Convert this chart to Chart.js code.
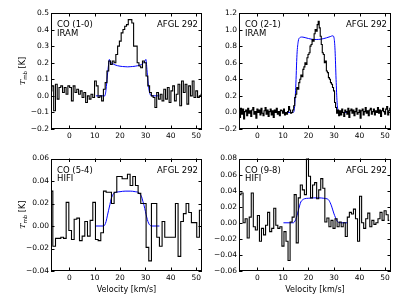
<!DOCTYPE html>
<html lang="en">
<head>
<meta charset="UTF-8">
<title>AFGL 292 - CO spectra</title>
<script src="https://cdn.jsdelivr.net/npm/chart.js@4"></script>
<style>
    body { margin: 0; background: #fff; }
    .wrap { position: relative; width: 407px; height: 305px; }
    .wrap canvas { position: absolute; }
</style>
</head>
<body>
<div class="wrap">
    <canvas id="co10" style="left:0px;top:0px" width="205" height="152"></canvas>
    <canvas id="co21" style="left:205px;top:0px" width="202" height="152"></canvas>
    <canvas id="co54" style="left:0px;top:152px" width="205" height="153"></canvas>
    <canvas id="co98" style="left:205px;top:152px" width="202" height="153"></canvas>
</div>

<script>
    // ---- data ----
    const velTicks = [0, 10, 20, 30, 40, 50];

    // CO (1-0) IRAM, channels of 0.7 km/s starting at -7.2
    const co10Start = -7.2, co10Width = 0.7;
    const co10T = [0.03, 0.06, -0.09, 0.07, -0.02, 0.05, 0.06, 0.02, 0.05, 0.01,
        0.06, 0.05, -0.03, 0.06, 0.02, 0.04, 0.01, 0.03, -0.01, 0.02,
        -0.04, 0.0, -0.02, 0.01, -0.01, 0.09, 0.06, -0.01, 0.0, -0.03,
        0.04, 0.08, 0.15, 0.21, 0.19, 0.21, 0.2, 0.25, 0.3, 0.33,
        0.38, 0.4, 0.42, 0.43, 0.46, 0.46, 0.44, 0.3, 0.3, 0.2,
        0.18, 0.17, 0.21, 0.2, 0.12, 0.06, 0.02, 0.0, -0.01, -0.07,
        0.02, -0.02, 0.01, -0.03, 0.04, -0.02, 0.05, -0.04, 0.03, 0.06,
        -0.03, 0.01, 0.07, -0.06, 0.09, 0.02, 0.07, -0.05, 0.06, 0.0,
        0.09, -0.01, 0.03, -0.01, 0.0, 0.01];
    const co10ModelV = [10.5, 14.0, 14.5, 15.0, 15.5, 15.8, 16.2, 17, 18, 19, 20, 21, 22, 23, 24, 25, 26, 27, 28, 29, 29.8, 30.2, 30.6, 31.0, 31.5, 32.0, 32.5, 35.5];
    const co10ModelT = [0, 0, 0.04, 0.12, 0.19, 0.22, 0.205, 0.195, 0.187, 0.182, 0.179, 0.177, 0.176, 0.175, 0.176, 0.177, 0.179, 0.182, 0.187, 0.195, 0.21, 0.22, 0.16, 0.09, 0.03, 0.005, 0, 0];
    const co10YTicks = [-0.2, -0.1, 0.0, 0.1, 0.2, 0.3, 0.4, 0.5];

    // CO (2-1) IRAM, channels of 0.4 km/s starting at -7.2
    const co21Start = -7.2, co21Width = 0.4;
    const co21T = [0.02, -0.06, 0.05, -0.02, 0.04, -0.08, 0.01, 0.03, -0.04, 0.05,
        -0.01, 0.02, -0.05, 0.03, 0.06, -0.02, 0.01, -0.07, 0.04, 0.0,
        0.03, -0.03, 0.05, -0.01, -0.04, 0.02, 0.06, -0.02, 0.03, -0.05,
        0.01, 0.04, -0.03, 0.02, -0.06, 0.03, 0.0, 0.05, -0.02, 0.01,
        -0.04, 0.03, 0.02, -0.01, 0.04, -0.03, 0.0, -0.02, 0.01, 0.07,
        0.03, -0.01, 0.0,
        0.03, 0.08, 0.18, 0.22, 0.3, 0.28, 0.36, 0.4, 0.45, 0.43,
        0.52, 0.55, 0.6, 0.58, 0.66, 0.7, 0.72, 0.8, 0.82, 0.88,
        0.86, 0.95, 1.0, 0.98, 1.06, 1.1, 1.02, 0.92, 0.82, 0.72,
        0.7, 0.6, 0.62, 0.5, 0.48, 0.42, 0.4, 0.36, 0.34, 0.3,
        0.26, 0.12, 0.06, -0.01, 0.03, -0.04,
        0.02, -0.03, 0.04, 0.0, -0.05, 0.03, 0.01, -0.02, 0.05, -0.06,
        0.02, 0.04, -0.01, 0.03, -0.04, 0.01, 0.05, -0.02, 0.0, 0.03,
        -0.07, 0.02, 0.04, -0.03, 0.01, 0.06, -0.01, 0.02, -0.04, 0.03,
        0.05, -0.02, 0.01, 0.04, -0.03, 0.02, 0.0, 0.06, -0.01, 0.03,
        -0.05, 0.02, 0.05, 0.01, -0.02, 0.04, 0.07, -0.03, 0.02, 0.05, -0.01];
    const co21ModelV = [10.5, 14.0, 14.5, 15.0, 15.5, 16.0, 16.5, 17.5, 19, 21, 23, 25, 27, 28.5, 29.5, 30.0, 30.4, 30.8, 31.2, 31.6, 32.0, 35.5];
    const co21ModelT = [0, 0, 0.05, 0.3, 0.7, 0.86, 0.9, 0.91, 0.9, 0.885, 0.88, 0.885, 0.9, 0.915, 0.925, 0.9, 0.75, 0.4, 0.12, 0.02, 0, 0];
    const co21YTicks = [-0.2, 0.0, 0.2, 0.4, 0.6, 0.8, 1.0, 1.2];

    // CO (5-4) HIFI, channels of 1.05 km/s starting at -7.0
    const co54Start = -7.0, co54Width = 1.05;
    const co54T = [0.031, -0.018, -0.011, -0.011, -0.010, -0.011, 0.021, -0.004, -0.012, 0.006,
        0.007, -0.013, -0.009, 0.004, -0.009, 0.005, 0.021, -0.012, -0.013, -0.006,
        0.031, 0.030, 0.030, 0.020, 0.030, 0.044, 0.044, 0.042, 0.042, 0.046,
        0.036, 0.044, 0.036, 0.029, 0.020, 0.020, -0.019, -0.031, 0.020, 0.020,
        -0.010, -0.018, 0.004, -0.010, -0.010, -0.010, -0.010, 0.020, -0.027, 0.004,
        0.011, 0.020, 0.012, 0.003, 0.003, -0.010, 0.014];
    const co54ModelV = [10.5, 13.5, 14.0, 14.5, 15.0, 15.5, 16.0, 16.5, 17.0, 17.5, 18.5, 20, 22, 24, 26, 27.5, 28.0, 28.5, 29.0, 29.5, 30.0, 30.5, 31.0, 31.5, 32.0, 32.5, 35.5];
    const co54ModelT = [0, 0, 0.001, 0.004, 0.009, 0.014, 0.019, 0.024, 0.027, 0.029, 0.030, 0.0305, 0.031, 0.031, 0.0305, 0.0295, 0.028, 0.026, 0.022, 0.018, 0.013, 0.008, 0.004, 0.0015, 0.0003, 0, 0];
    const co54YTicks = [-0.04, -0.02, 0.00, 0.02, 0.04, 0.06];

    // CO (9-8) HIFI, channels of 0.8 km/s starting at -6.8
    const co98Start = -6.8, co98Width = 0.8;
    const co98T = [0.035, 0.037, 0.000, 0.005, -0.019, 0.007, 0.037, -0.005, -0.009, 0.009,
        -0.023, -0.007, -0.015, -0.003, 0.013, -0.011, -0.007, 0.018, -0.003, -0.007,
        -0.005, -0.029, -0.011, -0.023, -0.047, 0.001, 0.007, 0.035, -0.025, 0.031,
        0.047, 0.041, 0.035, 0.080, 0.058, 0.031, 0.047, 0.050, 0.030, 0.041,
        0.055, 0.043, 0.001, 0.006, -0.005, 0.003, -0.007, 0.005, -0.005, 0.001,
        -0.005, 0.000, -0.017, 0.007, 0.013, 0.011, 0.017, 0.005, -0.023, 0.033,
        0.000, -0.007, 0.005, 0.012, -0.005, 0.003, -0.002, 0.000, 0.005, 0.013,
        0.003, 0.015, 0.010, 0.003];
    const co98ModelV = [10.2, 14.0, 14.5, 15.0, 15.5, 16.0, 16.5, 17.0, 17.5, 18.5, 20, 22, 24, 26, 27.5, 28.0, 28.5, 29.0, 29.5, 30.0, 30.5, 31.0, 31.5, 32.0, 32.5, 35.2];
    const co98ModelT = [0, 0, 0.001, 0.004, 0.009, 0.015, 0.021, 0.026, 0.028, 0.030, 0.0305, 0.031, 0.031, 0.0305, 0.0295, 0.028, 0.025, 0.021, 0.016, 0.011, 0.007, 0.003, 0.001, 0.0002, 0, 0];
    const co98YTicks = [-0.06, -0.04, -0.02, 0.00, 0.02, 0.04, 0.06, 0.08];

    const velMin = -7.2, velMax = 52.3;

    Chart.defaults.font.family = "'DejaVu Sans', sans-serif";
    Chart.defaults.color = '#000';

    // frame with inward ticks on all four sides (matplotlib look)
    const framePlugin = {
        id: 'frame',
        afterDraw(chart) {
            const { ctx, chartArea: a, scales } = chart;
            const len = 3.5;
            ctx.save();
            ctx.strokeStyle = '#000';
            ctx.lineWidth = 1;
            ctx.strokeRect(Math.round(a.left) + 0.5, Math.round(a.top) + 0.5,
                Math.round(a.right) - Math.round(a.left) - 1, Math.round(a.bottom) - Math.round(a.top) - 1);
            ctx.beginPath();
            scales.x.ticks.forEach(t => {
                const px = Math.round(scales.x.getPixelForValue(t.value)) + 0.5;
                ctx.moveTo(px, a.bottom); ctx.lineTo(px, a.bottom - len);
                ctx.moveTo(px, a.top); ctx.lineTo(px, a.top + len);
            });
            scales.y.ticks.forEach(t => {
                const py = Math.round(scales.y.getPixelForValue(t.value)) + 0.5;
                ctx.moveTo(a.left, py); ctx.lineTo(a.left + len, py);
                ctx.moveTo(a.right, py); ctx.lineTo(a.right - len, py);
            });
            ctx.stroke();
            ctx.restore();
        }
    };

    // line name, telescope, source name and the T_mb label
    const textPlugin = {
        id: 'panelText',
        afterDraw(chart, args, opts) {
            const { ctx, chartArea: a } = chart;
            ctx.save();
            ctx.fillStyle = '#000';
            ctx.font = "8.5px 'DejaVu Sans'";
            ctx.textBaseline = 'alphabetic';
            ctx.textAlign = 'left';
            ctx.fillText(opts.line, a.left + 6, a.top + 14);
            ctx.fillText(opts.telescope, a.left + 6, a.top + 22.5);
            ctx.textAlign = 'right';
            ctx.fillText(opts.source, a.right - 4, a.top + 14);
            if (opts.ylabel) {
                const cy = (a.top + a.bottom) / 2;
                ctx.translate(opts.ylabelX, cy);
                ctx.rotate(-Math.PI / 2);
                ctx.textAlign = 'left';
                const big = "8px 'DejaVu Sans'";
                const small = "5.5px 'DejaVu Sans'";
                const parts = [
                    { t: 'T', f: "italic 8px 'DejaVu Serif'", dy: 0 },
                    { t: 'mb', f: small, dy: 1.8 },
                    { t: ' [K]', f: big, dy: 0 }
                ];
                let w = 0;
                parts.forEach(p => { ctx.font = p.f; w += ctx.measureText(p.t).width; });
                let x = -w / 2;
                parts.forEach(p => {
                    ctx.font = p.f;
                    ctx.fillText(p.t, x, 3 + p.dy);
                    x += ctx.measureText(p.t).width;
                });
            }
            ctx.restore();
        }
    };

    function fmtY(digits) {
        return v => v.toFixed(digits).replace('-', '\u2212');
    }

    function makePanel(id, p) {
        const spec = p.values.map((y, i) => ({ x: p.start + p.width * i, y: y }));
        const model = p.modelV.map((x, i) => ({ x: x, y: p.modelT[i] }));
        return new Chart(document.getElementById(id), {
            type: 'line',
            data: {
                datasets: [{
                    data: spec,
                    borderColor: '#000',
                    borderWidth: 1.1,
                    stepped: 'middle',
                    pointRadius: 0,
                    fill: false
                }, {
                    data: model,
                    borderColor: '#0000ff',
                    borderWidth: 1,
                    cubicInterpolationMode: 'monotone',
                    pointRadius: 0,
                    fill: false
                }]
            },
            options: {
                responsive: false,
                animation: false,
                events: [],
                layout: { padding: { top: p.padTop, right: p.padRight, left: 0, bottom: 0 } },
                plugins: {
                    legend: { display: false },
                    tooltip: { enabled: false },
                    panelText: {
                        line: p.line, telescope: p.telescope, source: 'AFGL 292',
                        ylabel: p.ylabel, ylabelX: 22
                    }
                },
                scales: {
                    x: {
                        type: 'linear',
                        min: velMin,
                        max: velMax,
                        grid: { display: false, drawTicks: false },
                        border: { display: false },
                        afterBuildTicks: s => { s.ticks = velTicks.map(v => ({ value: v })); },
                        afterFit: s => { s.height = p.xHeight; },
                        ticks: { font: { size: 7.5 }, padding: 3, maxRotation: 0, autoSkip: false },
                        title: {
                            display: p.xlabel,
                            text: 'Velocity [km/s]',
                            font: { size: 8 },
                            padding: { top: 0, bottom: 10 }
                        }
                    },
                    y: {
                        min: p.yMin,
                        max: p.yMax,
                        grid: { display: false, drawTicks: false },
                        border: { display: false },
                        afterBuildTicks: s => { s.ticks = p.yTicks.map(v => ({ value: v })); },
                        afterFit: s => { s.width = p.yWidth; },
                        ticks: { font: { size: 7.5 }, padding: 2, autoSkip: false, callback: fmtY(p.digits) }
                    }
                }
            },
            plugins: [framePlugin, textPlugin]
        });
    }

    const chartCo10 = makePanel('co10', {
        values: co10T, start: co10Start, width: co10Width,
        modelV: co10ModelV, modelT: co10ModelT,
        yMin: -0.2, yMax: 0.5, yTicks: co10YTicks, digits: 1,
        line: 'CO (1-0)', telescope: 'IRAM', ylabel: true, xlabel: false,
        padTop: 13, padRight: 3, yWidth: 51, xHeight: 23
    });

    const chartCo21 = makePanel('co21', {
        values: co21T, start: co21Start, width: co21Width,
        modelV: co21ModelV, modelT: co21ModelT,
        yMin: -0.2, yMax: 1.2, yTicks: co21YTicks, digits: 1,
        line: 'CO (2-1)', telescope: 'IRAM', ylabel: false, xlabel: false,
        padTop: 13, padRight: 16, yWidth: 34, xHeight: 23
    });

    const chartCo54 = makePanel('co54', {
        values: co54T, start: co54Start, width: co54Width,
        modelV: co54ModelV, modelT: co54ModelT,
        yMin: -0.04, yMax: 0.06, yTicks: co54YTicks, digits: 2,
        line: 'CO (5-4)', telescope: 'HIFI', ylabel: true, xlabel: true,
        padTop: 3, padRight: 3, yWidth: 51, xHeight: 34
    });

    const chartCo98 = makePanel('co98', {
        values: co98T, start: co98Start, width: co98Width,
        modelV: co98ModelV, modelT: co98ModelT,
        yMin: -0.06, yMax: 0.08, yTicks: co98YTicks, digits: 2,
        line: 'CO (9-8)', telescope: 'HIFI', ylabel: false, xlabel: true,
        padTop: 3, padRight: 16, yWidth: 34, xHeight: 34
    });
</script>
</body>
</html>
